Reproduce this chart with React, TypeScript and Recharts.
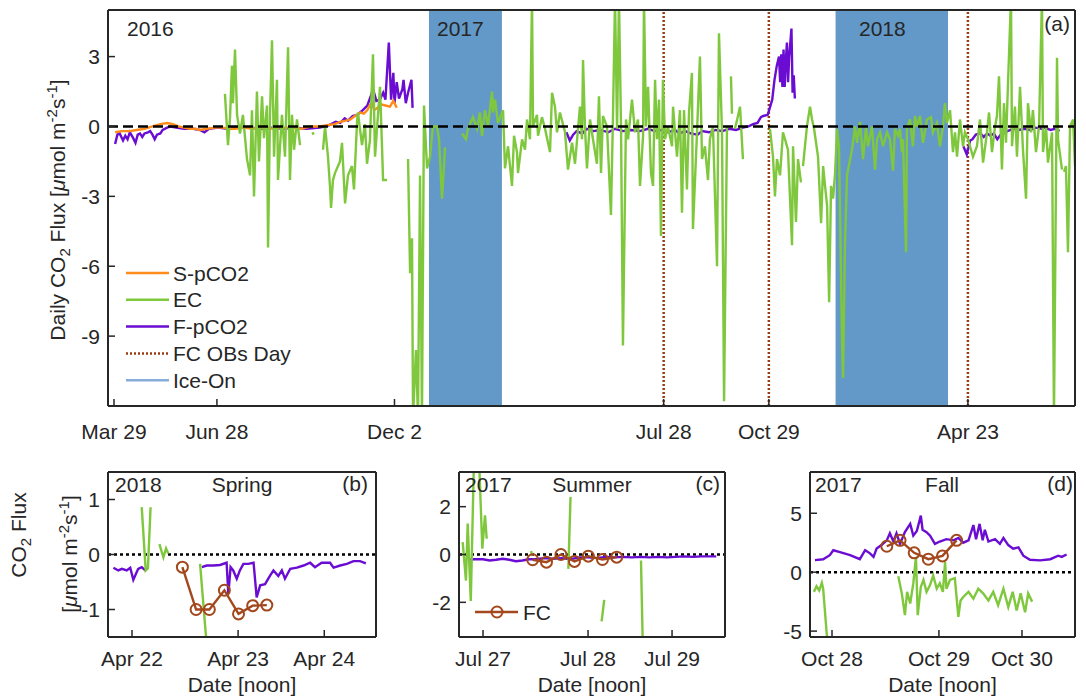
import React from 'react'
import { ComposedChart, Line, XAxis, YAxis, ReferenceLine, ReferenceArea } from 'recharts'

// Daily CO2 flux, 3 methods + FC chamber days; (a) full record, (b)(c)(d) zoomed windows

const FONT = '"Liberation Sans", Arial, Helvetica, sans-serif'
const INK = '#262626'
const EC_COLOR = '#7fc73d'
const S_COLOR = '#ff8c1a'
const F_COLOR = '#6a0cd2'
const FC_COLOR = '#a2481c'
const OBS_COLOR = '#9b3c12'
const ICE_COLOR = '#6399c8'
const ICE_LEGEND = '#86acd9'

type Pt = [number, number | null]

// ---- panel (a): x = days since 2016-03-29 ----
const mainTickDays = [0, 91, 248, 486, 579, 755]
const mainTickLabels = ['Mar 29', 'Jun 28', 'Dec 2', 'Jul 28', 'Oct 29', 'Apr 23']
const mainYTicks = [-9, -6, -3, 0, 3]
const fcObsDays = [486, 579, 755]
const iceOn: [number, number][] = [[278.5, 343], [638, 737.4]]

const sPco2: Pt[] = [
  [1, -0.25], [7, -0.2], [14, -0.2], [20, -0.15], [27, -0.1], [34, 0.0], [41, 0.1], [47, 0.15], [52, 0.1], [57, 0.0],
  [62, -0.05], [67, -0.1], [72, -0.1], [76, -0.15], [82, -0.1], [89, -0.05], [96, -0.05], [102, -0.1], [107, -0.1], [115, -0.05],
  [122, -0.1], [129, -0.05], [138, -0.1], [147, -0.05], [156, -0.05], [165, -0.1], [174, 0.0], [182, 0.0], [188, 0.05], [195, 0.1],
  [200, 0.2], [205, 0.25], [209, 0.3], [213, 0.45], [218, 0.6], [221, 0.55], [224, 0.7], [226, 0.9], [228, 1.0], [230, 0.7],
  [233, 0.8], [236, 0.95], [240, 0.9], [244, 0.85], [247, 1.1], [250, 0.8],
]

const fPco2: Pt[] = [
  [1, -0.75], [3, -0.35], [5, -0.3], [8, -0.6], [10, -0.4], [12, -0.55], [14, -0.25], [17, -0.5], [19, -0.7], [21, -0.35],
  [23, -0.3], [25, -0.45], [27, -0.3], [30, -0.25], [32, -0.2], [34, -0.35], [36, -0.55], [38, -0.35], [41, -0.3], [43, -0.15],
  [47, -0.05], [50, 0.0], [55, -0.05], [62, -0.1], [70, -0.1], [76, -0.15], [80, -0.25], [84, -0.1], [92, -0.05], [100, -0.1],
  [110, -0.05], [120, -0.05], [130, -0.1], [140, -0.05], [150, -0.1], [160, -0.05], [170, -0.1], [182, -0.05], [190, 0.05], [196, 0.2],
  [200, 0.15], [204, 0.35], [207, 0.25], [211, 0.45], [215, 0.5], [220, 0.7], [224, 0.9], [227, 1.3], [229, 1.6], [232, 1.1],
  [235, 1.15], [238, 1.45], [240, 1.15], [243, 3.6], [245, 1.15], [247, 2.3], [248, 1.0], [250, 1.9], [252, 1.2], [255, 1.6],
  [256, 2.0], [258, 1.0], [260, 1.45], [263, 2.0], [264, 0.8],
  [330, null],
  [400, -0.25], [403, -0.6], [406, -0.35], [409, -0.2], [414, -0.3], [418, -0.1], [424, -0.2], [430, -0.15], [437, -0.25], [443, -0.1],
  [450, -0.2], [457, -0.15], [465, -0.2], [472, -0.1], [478, -0.2], [484, -0.15], [490, -0.25], [496, -0.15], [500, -0.3], [505, -0.2],
  [510, -0.3], [516, -0.35], [520, -0.2], [526, -0.25], [532, -0.15], [538, -0.2], [544, -0.1], [550, -0.15], [556, -0.05], [561, 0.0],
  [565, 0.1], [569, 0.15], [572, 0.4], [574, 0.45], [578, 0.5], [582, 1.15], [584, 2.0], [586, 2.6], [588, 3.0], [589, 1.9],
  [590, 3.1], [591, 1.7], [592, 3.3], [593, 1.7], [594, 2.8], [595, 3.6], [596, 1.9], [597, 3.0], [599, 4.2], [600, 1.45],
  [601, 2.2], [602, 1.2],
  [650, null],
  [751, -0.85], [754, -1.2], [757, -0.6], [759, -0.55], [762, -0.35], [766, -0.3], [769, -0.45], [772, -0.3], [775, -0.4], [778, -0.3],
  [781, -0.55], [784, -0.35], [786, -0.3], [790, -0.2], [795, -0.1], [800, -0.15], [805, -0.1], [810, -0.15], [815, -0.05], [820, -0.1],
  [823, -0.05], [828, -0.15], [832, -0.1], [836, -0.2],
]

const ecFlux: Pt[] = [
  [98.1, 1.4], [100.8, -0.8], [102.6, 0.4], [104.3, 2.6], [105.2, 1.0], [107, 3.3], [108.8, 0.5], [111.4, -0.3], [114, 0.5], [117.6, -1.4],
  [120.3, -2.1], [122, 0.7], [123.8, -3.0], [126.4, 1.5], [128.2, -1.5], [130.9, 1.3], [132.6, -0.5], [135.3, 0.9], [136.2, -5.2], [137.9, 0.4],
  [139.7, 3.7], [141.5, -1.3], [144.1, 2.0], [145, -2.3], [148.5, 0.5], [151.2, -1.3], [153.9, 3.4], [155.6, -2.3], [157.4, 0.5], [159.2, -1.0],
  [161.8, 0.3], [164.5, -0.8],
  [170, null],
  [175.5, -0.25], [176.5, -0.35],
  [180, null],
  [184.8, -1.0], [186.6, 0.0], [189.2, -1.3], [191, -2.6], [191.9, -3.5], [193.6, -2.3], [195.4, -2.0], [199.8, -1.5], [201.6, -0.7], [204.3, -3.3],
  [206.9, -2.1], [210.4, -1.7], [212.2, -2.7], [214.9, 0.2], [215.7, 0.6], [219.3, -0.8], [221.9, 0.1], [223.7, -1.6], [226.3, -0.6], [229, 3.1],
  [230.8, -1.3], [235.2, 1.7], [237, -0.9], [237.9, -2.3], [241.4, -2.3],
  [250, null],
  [260, -1.4], [261.8, -6.3], [263.5, -4.8], [264.4, -12.5], [267, -9.6], [268.8, -12.5], [270.6, -2.1], [272.3, -12.5], [274.1, 0.9], [276.8, -1.8],
  [279.4, -1.3], [282, 0.0], [285.6, 0.0], [287.4, -0.55], [290, -3.1], [292.7, -0.9],
  [300, null],
  [307.7, -0.3], [311.2, -0.55], [313, -0.1], [317.4, 0.4], [321, -0.1], [323.6, 0.6], [325.4, -0.4], [328, 0.7], [330.7, 0.0], [334.2, 1.5],
  [335.1, 0.6], [336.9, 1.15], [339.5, 0.15], [344, 0.7], [345.7, -1.8], [348.4, -0.85], [351.9, -2.55], [353.7, -0.4], [356.3, -1.1], [357.2, -2.0],
  [360.8, -0.55], [363.4, -1.0], [365.2, 0.3], [367.8, -0.55], [369.6, 5.5], [370.5, 0.0], [374, 0.5], [374.9, -0.4], [378.4, 0.4], [381.1, -0.1],
  [385.5, -1.1], [387.3, 1.45], [389.9, 0.85], [391.7, -0.25], [394.3, 0.6], [398.8, -0.25], [401.4, -1.85], [405, -0.7], [407.6, -1.6], [412, 0.85],
  [413.8, -0.55], [414.7, 2.85], [416.4, 0.0], [418.2, -1.8], [420.9, 0.3], [423.5, -0.55], [427, -1.6], [428.8, 1.3], [430.6, -2.0], [432.3, 0.45],
  [435.9, 0.0], [439.4, -3.8], [441.2, 0.45], [443, 5.5], [444.8, -0.1], [446.5, 5.5], [448.3, 0.0], [450, -9.4], [452.7, 0.3], [454.5, -0.55],
  [458, 1.15], [460.7, -0.25], [463.3, 0.3], [465.1, -2.55], [467.8, -0.4], [468.6, 5.5], [470.4, 0.0], [472.2, 1.7], [474.8, -2.0], [476.6, -2.55],
  [478.4, 2.0], [480.1, -0.55], [481.9, 1.15], [483.6, -4.7], [485.4, 2.0], [487.2, -0.55], [489.8, 0.0], [493.4, -0.85], [494.3, 0.85], [497.8, -1.3],
  [500.4, 0.7], [502.2, -3.7], [504, 0.7], [506.6, -2.7], [508.4, 0.6], [511, 2.3], [511.9, -4.4], [515.5, -0.25], [518.1, 3.0], [519.9, -1.4],
  [522.5, -0.85], [525.2, -2.3], [526.9, -0.55], [529.6, 0.0], [533.2, -6.0], [534.9, 4.0], [537.6, -0.25], [539.4, -11.8], [542, 0.0],
  [543.5, null],
  [545.5, 2.15], [546.4, 0.55],
  [547.5, null],
  [549, -0.1], [551, 0.3], [553.5, 0.85], [556.1, -1.4],
  [570, null],
  [580, -0.1], [582.7, -1.3], [584.4, -3.0], [586.2, -1.4], [588.9, -2.1], [591.5, -0.25], [593.3, -0.55], [595.9, -1.0], [599.5, -5.1], [600.4, -0.85],
  [603, -4.1], [604.8, -1.4], [607.4, -2.4],
  [608.3, null],
  [609.2, -1.7], [612.7, 0.0], [615.4, 0.85], [617.2, 0.3], [619, -0.1], [622.5, -1.3], [625.2, -4.15], [627, -1.7], [628.7, -2.55], [630.5, -3.4],
  [632.3, -7.55], [634, -2.55], [635.8, -3.1], [637.6, -2.0], [639.3, -0.1], [641, -0.85], [643.7, -9.1], [644.6, -10.8], [646.3, -5.1], [648.1, -2.1],
  [652.5, -1.0], [655.2, 0.0], [657, -0.7], [659.6, 0.2], [662.3, -1.4], [664.9, 0.0], [666.7, -0.85], [670.2, 0.0], [672.9, -1.85], [674.7, -0.55],
  [677.3, -0.25], [680, -0.85], [683.5, -0.25], [686.1, -0.55], [688.8, -1.9], [690.5, -0.1], [693.2, -0.4], [695, -0.1], [696.7, -1.1], [697.6, -0.55],
  [700.3, -5.4], [701.1, -0.1], [703.8, 0.3], [706.4, -0.85], [708.2, 0.45], [710, 0.0], [712.6, 0.45], [715.3, -0.7], [718.8, 0.3], [722.4, 0.4],
  [724.1, -0.25], [727.7, 0.15], [730.3, -0.85], [733, 0.0], [734.7, 1.0], [736.5, 0.15], [739.2, 0.7], [741.8, -1.1], [743.6, -0.25], [745.4, -1.3],
  [748, 0.3], [750.7, -0.85], [752.4, -0.25], [755.1, -0.55], [759.5, -1.3], [763, -0.85], [765.7, 0.3], [768.4, -1.55], [771.9, -0.25], [773.7, 0.6],
  [776.3, -1.1], [779, 0.0], [780.7, 0.45], [782.5, 2.15], [785.1, -1.85], [786.9, 1.0], [788.7, -0.7], [790.5, 1.9], [793.1, 5.5], [794, -0.85],
  [796.6, 0.85], [798.4, -1.3], [801.1, 1.7], [803.7, -1.0], [806.4, -3.1], [808.1, 1.0], [810.8, -0.25], [812.5, 0.7], [815.2, -1.1], [817.9, 0.0],
  [820.5, 5.5], [821.4, -1.1], [824.1, 0.0], [825.8, -1.55], [829.4, -0.25], [831.1, -12.5], [833.8, 2.95], [834.7, -0.55], [838.2, -1.85],
  [839, null],
  [840, -1.95], [841.7, -1.7], [843.5, -5.4], [845.3, 0.0], [848, 0.3], [849.7, -1.7],
]

// ---- panels (b)(c)(d): x = hours into the 3-day window ----
const bTickLabels = ['Apr 22', 'Apr 23', 'Apr 24']
const cTickLabels = ['Jul 27', 'Jul 28', 'Jul 29']
const dTickLabels = ['Oct 28', 'Oct 29', 'Oct 30']

const bPurple: Pt[] = [
  [7.8, -0.24], [8.9, -0.29], [9.7, -0.26], [10.8, -0.29], [11.6, -0.24], [12.3, -0.46], [12.9, -0.35], [13.4, -0.26], [14.2, -0.23], [15.0, -0.29],
  [20, null],
  [27.8, -0.23], [28.9, -0.2], [30.4, -0.2], [31.9, -0.19], [33.4, -0.15], [33.8, -0.72], [34.3, -0.23], [34.9, -0.29], [35.7, -0.44], [36.4, -0.29],
  [37.2, -0.17], [38.3, -0.17], [39.5, -0.15], [40.2, -0.78], [41.0, -0.56], [42.1, -0.54], [43.2, -0.39], [44.0, -0.29], [45.1, -0.39], [45.9, -0.29],
  [46.6, -0.44], [47.8, -0.26], [49.3, -0.24], [50.8, -0.2], [52.3, -0.15], [53.4, -0.23], [54.9, -0.15], [56.8, -0.15], [57.6, -0.24], [59.1, -0.2],
  [60.6, -0.17], [62.1, -0.12], [63.6, -0.12], [64.9, -0.16],
]
const bEc: Pt[] = [
  [14.2, 0.86], [15.1, -0.29], [15.6, -0.25], [16.2, 0.86],
  [17, null],
  [18.2, 0.19], [19.1, -0.05], [19.7, 0.11], [20.2, 0.02],
  [24, null],
  [27.4, -0.17], [28.7, -1.45], [29.0, -1.7],
]
const bFc: Pt[] = [[23.4, -0.23], [26.5, -1.0], [29.5, -1.0], [32.9, -0.65], [36.1, -1.08], [39.3, -0.93], [42.5, -0.92]]

const cPurple: Pt[] = [
  [8.6, -0.22], [10, -0.2], [12, -0.2], [13.5, -0.25], [15, -0.22], [16.5, -0.18], [18, -0.22], [19.5, -0.28], [21, -0.25], [22.5, -0.2],
  [24, -0.2], [26, -0.15], [28, -0.18], [30, -0.15], [32, -0.2], [34, -0.12], [36, -0.12], [38, -0.15], [40, -0.1], [42, -0.12],
  [44, -0.1], [46, -0.12], [48, -0.1], [50, -0.12], [52, -0.1], [54, -0.12], [56, -0.1], [58, -0.08], [60, -0.1], [62, -0.08], [65.3, -0.08],
]
const cEc: Pt[] = [
  [7.35, 0.52], [8.1, -1.09], [8.5, 1.29], [9.2, -1.94], [9.9, 3.7], [11.15, 3.7], [11.84, 0.24], [12.45, 1.64], [12.84, 0.66],
  [14, null],
  [23.0, 0.15], [23.2, -0.05],
  [27, null],
  [31.5, -0.6], [32.0, 2.41],
  [35, null],
  [39.1, -2.8], [39.7, -1.9],
  [44, null],
  [48.1, -0.25], [48.5, -3.7],
]
const cFc: Pt[] = [[23.35, -0.22], [26.5, -0.32], [29.8, 0.0], [32.9, -0.29], [36.06, -0.07], [39.3, -0.21], [42.55, -0.11]]

const dPurple: Pt[] = [
  [8.15, 1.02], [10.0, 1.1], [11.5, 1.44], [12.3, 1.86], [13.8, 1.7], [16.1, 1.44], [18.3, 1.1], [19.5, 1.86], [20.6, 1.6], [21.4, 1.3],
  [22.1, 2.0], [23.2, 2.3], [24.4, 2.7], [25.1, 3.3], [25.9, 2.6], [26.6, 3.3], [27.4, 2.4], [28.5, 3.4], [29.7, 4.1], [30.4, 3.1],
  [31.2, 3.5], [32.1, 4.8], [32.5, 3.6], [33.4, 3.4], [34.2, 3.1], [35.3, 2.4], [36.4, 2.6], [37.9, 2.8], [39.5, 2.7], [40.6, 2.9],
  [41.7, 2.5], [42.9, 2.7], [44.0, 4.0], [44.6, 2.8], [45.4, 4.1], [46.1, 2.7], [46.6, 3.6], [47.4, 2.6], [48.9, 2.8], [50.0, 2.4],
  [50.8, 2.9], [51.9, 2.3], [53.0, 2.0], [54.2, 2.1], [55.3, 1.4], [56.8, 1.05], [59.1, 1.0], [61.4, 1.1], [63.2, 1.4], [64.0, 1.3], [65.1, 1.5],
]
const dEc: Pt[] = [
  [7.9, -1.67], [8.5, -1.2], [9.1, -1.55], [9.7, -0.9], [10.0, -1.4], [10.8, -5.2], [11.0, -6.0],
  [18, null],
  [27.0, -0.34], [27.8, -1.8], [28.5, -3.65], [29.0, -1.67], [29.7, -2.66], [30.4, -0.95], [31.0, 1.3], [31.4, -3.65], [32.1, -1.25], [32.7, -0.66],
  [33.4, -1.67], [34.2, -1.1], [34.9, -0.28], [35.7, -1.4], [36.4, -0.95], [37.1, -1.67], [37.6, 0.87], [37.9, -1.4], [38.7, -0.66], [39.8, -0.5],
  [40.6, -3.8], [41.1, -2.4], [41.7, -2.1], [42.9, -1.67], [44.0, -2.25], [45.1, -1.4], [46.2, -1.8], [47.4, -2.4], [48.5, -1.67], [49.6, -2.8],
  [50.8, -1.4], [51.9, -2.95], [52.9, -1.67], [53.8, -3.25], [54.7, -1.8], [55.7, -3.4], [56.4, -1.8], [57.3, -2.5],
]
const dFc: Pt[] = [[24.4, 2.2], [27.4, 2.7], [30.6, 1.64], [33.8, 1.1], [37.0, 1.38], [40.2, 2.7]]

const legendItems = [
  { label: 'S-pCO2', color: S_COLOR, dash: undefined as string | undefined },
  { label: 'EC', color: EC_COLOR, dash: undefined },
  { label: 'F-pCO2', color: F_COLOR, dash: undefined },
  { label: 'FC OBs Day', color: OBS_COLOR, dash: '2 2' },
  { label: 'Ice-On', color: ICE_LEGEND, dash: undefined },
]

const rows = (pts: Pt[]) => pts.map(([t, v]) => ({ t, v }))

const axisLine = { stroke: INK, strokeWidth: 2 }
const tickLine = { stroke: INK, strokeWidth: 1.5 }
const tickText = { fill: INK, fontSize: 21 }

// box frame: bottom/left axes carry labels, top/right only inward ticks
// (top/right get a hidden series so recharts keeps them)
function frameAxes(o: {
  xDomain: [number, number]; xTicks: number[]; xLabels: string[]; xHeight: number; xMargin: number
  yDomain: [number, number]; yTicks: number[]; yMargin: number; xTitle?: string
}) {
  const fmt = (v: number) => o.xLabels[o.xTicks.indexOf(v)] ?? ''
  const anchor = [{ t: o.xDomain[0], v: o.yDomain[0] }, { t: o.xDomain[1], v: o.yDomain[1] }]
  return [
    <XAxis key="xb" type="number" dataKey="t" domain={o.xDomain} ticks={o.xTicks} tickFormatter={fmt} interval={0}
      allowDataOverflow height={o.xHeight} tickSize={-7} tickMargin={o.xMargin} axisLine={axisLine} tickLine={tickLine} tick={tickText}
      label={o.xTitle ? { value: o.xTitle, position: 'insideBottom', offset: 0, fill: INK, fontSize: 21 } : undefined} />,
    <XAxis key="xt" xAxisId="top" orientation="top" type="number" dataKey="t" domain={o.xDomain} ticks={o.xTicks} interval={0}
      allowDataOverflow height={1} tickSize={-7} axisLine={axisLine} tickLine={tickLine} tick={false} />,
    <YAxis key="yl" type="number" domain={o.yDomain} ticks={o.yTicks} interval={0} allowDataOverflow width={40}
      tickSize={-7} tickMargin={o.yMargin} axisLine={axisLine} tickLine={tickLine} tick={tickText} />,
    <YAxis key="yr" yAxisId="right" orientation="right" type="number" domain={o.yDomain} ticks={o.yTicks} interval={0}
      allowDataOverflow width={1} tickSize={-7} axisLine={axisLine} tickLine={tickLine} tick={false} />,
    <Line key="anchor" xAxisId="top" yAxisId="right" data={anchor} dataKey="v" stroke="none" dot={false}
      legendType="none" isAnimationActive={false} />,
  ]
}

function MainPanel() {
  return (
    <div style={{ position: 'absolute', left: 0, top: 0 }}>
      <ComposedChart width={1086} height={450} margin={{ top: 9, right: 10, bottom: 4, left: 68 }}>
        {iceOn.map(([a, b]) => (
          <ReferenceArea key={a} x1={a} x2={b} fill={ICE_COLOR} fillOpacity={1} stroke="none" />
        ))}
        {fcObsDays.map((d) => (
          <ReferenceLine key={d} x={d} stroke={OBS_COLOR} strokeWidth={2.5} strokeDasharray="2 2" />
        ))}
        {frameAxes({
          xDomain: [-5.3, 849.7], xTicks: mainTickDays, xLabels: mainTickLabels, xHeight: 40, xMargin: 25,
          yDomain: [-12, 5], yTicks: mainYTicks, yMargin: 15,
        })}
        <Line data={rows(fPco2)} dataKey="v" stroke={F_COLOR} strokeWidth={2.4} dot={false} isAnimationActive={false} />
        <Line data={rows(sPco2)} dataKey="v" stroke={S_COLOR} strokeWidth={2.4} dot={false} isAnimationActive={false} />
        <Line data={rows(ecFlux)} dataKey="v" stroke={EC_COLOR} strokeWidth={2.4} dot={false} isAnimationActive={false} />
        <ReferenceLine y={0} stroke="#000" strokeWidth={2.5} strokeDasharray="10 5" />
      </ComposedChart>
    </div>
  )
}

function SmallPanel(p: {
  left: number; right: number; xDomain: [number, number]; xTicks: number[]; xLabels: string[]
  yDomain: [number, number]; yTicks: number[]; purple: Pt[]; ec: Pt[]; fc: Pt[]
}) {
  return (
    <div style={{ position: 'absolute', left: 0, top: 460 }}>
      <ComposedChart width={1086} height={238} margin={{ top: 11, right: 1086 - p.right - 1, bottom: 6, left: p.left - 40 }}>
        {frameAxes({
          xDomain: p.xDomain, xTicks: p.xTicks, xLabels: p.xLabels, xHeight: 55, xMargin: 21,
          yDomain: p.yDomain, yTicks: p.yTicks, yMargin: 15, xTitle: 'Date [noon]',
        })}
        <ReferenceLine y={0} stroke="#000" strokeWidth={2.5} strokeDasharray="3 3" />
        <Line data={rows(p.purple)} dataKey="v" stroke={F_COLOR} strokeWidth={2.4} dot={false} isAnimationActive={false} />
        <Line data={rows(p.ec)} dataKey="v" stroke={EC_COLOR} strokeWidth={2.4} dot={false} isAnimationActive={false} />
        <Line data={rows(p.fc)} dataKey="v" stroke={FC_COLOR} strokeWidth={2.4}
          dot={{ r: 5.5, stroke: FC_COLOR, strokeWidth: 2, fill: 'none' }} isAnimationActive={false} />
      </ComposedChart>
    </div>
  )
}

function Overlay() {
  const t = { fill: INK, fontSize: 21 }
  return (
    <svg width={1086} height={698} style={{ position: 'absolute', left: 0, top: 0, pointerEvents: 'none' }} fontFamily={FONT}>
      <text x={127} y={36} {...t}>2016</text>
      <text x={437} y={36} {...t}>2017</text>
      <text x={859} y={36} {...t}>2018</text>
      <text x={1070} y={31} textAnchor="end" {...t}>(a)</text>

      <text x={115} y={492} {...t}>2018</text>
      <text x={242} y={492} textAnchor="middle" {...t}>Spring</text>
      <text x={368} y={491} textAnchor="end" {...t}>(b)</text>
      <text x={465} y={492} {...t}>2017</text>
      <text x={592} y={492} textAnchor="middle" {...t}>Summer</text>
      <text x={720} y={491} textAnchor="end" {...t}>(c)</text>
      <text x={815} y={492} {...t}>2017</text>
      <text x={942} y={492} textAnchor="middle" {...t}>Fall</text>
      <text x={1073} y={491} textAnchor="end" {...t}>(d)</text>

      {legendItems.map((it, i) => {
        const y = 273 + i * 26.8
        return (
          <g key={it.label}>
            <line x1={126} x2={169} y1={y} y2={y} stroke={it.color} strokeWidth={2.5} strokeDasharray={it.dash} />
            <text x={173} y={y + 7.5} {...t}>{it.label}</text>
          </g>
        )
      })}

      <line x1={475} x2={518} y1={612} y2={612} stroke={FC_COLOR} strokeWidth={2.4} />
      <circle cx={497} cy={612} r={5.5} fill="none" stroke={FC_COLOR} strokeWidth={2} />
      <text x={523} y={619.5} {...t}>FC</text>

      <text transform="translate(65,210) rotate(-90)" textAnchor="middle" {...t}>
        Daily CO<tspan dy={5} fontSize={15}>2</tspan><tspan dy={-5}> Flux [</tspan><tspan fontStyle="italic">μ</tspan>mol m
        <tspan dy={-8} fontSize={15}>-2</tspan><tspan dy={8}>s</tspan><tspan dy={-8} fontSize={15}>-1</tspan><tspan dy={8}>]</tspan>
      </text>
      <text transform="translate(26,535) rotate(-90)" textAnchor="middle" {...t}>
        CO<tspan dy={5} fontSize={15}>2</tspan><tspan dy={-5}> Flux</tspan>
      </text>
      <text transform="translate(77,554) rotate(-90)" textAnchor="middle" {...t}>
        [<tspan fontStyle="italic">μ</tspan>mol m<tspan dy={-8} fontSize={15}>-2</tspan><tspan dy={8}>s</tspan>
        <tspan dy={-8} fontSize={15}>-1</tspan><tspan dy={8}>]</tspan>
      </text>
    </svg>
  )
}

export default function App() {
  return (
    <div style={{ position: 'absolute', left: 0, top: 0, width: 1086, height: 698, background: '#fff', fontFamily: FONT }}>
      <MainPanel />
      <SmallPanel left={108} right={376} xDomain={[6.57, 67.2]} xTicks={[12, 36, 55.5]} xLabels={bTickLabels}
        yDomain={[-1.5, 1.5]} yTicks={[-1, 0, 1]} purple={bPurple} ec={bEc} fc={bFc} />
      <SmallPanel left={459} right={725} xDomain={[6.51, 67.3]} xTicks={[12, 36, 55.2]} xLabels={cTickLabels}
        yDomain={[-3.45, 3.45]} yTicks={[-2, 0, 2]} purple={cPurple} ec={cEc} fc={cFc} />
      <SmallPanel left={810} right={1075} xDomain={[7.02, 67.0]} xTicks={[12, 36.2, 55]} xLabels={dTickLabels}
        yDomain={[-5.5, 8.5]} yTicks={[-5, 0, 5]} purple={dPurple} ec={dEc} fc={dFc} />
      <Overlay />
    </div>
  )
}
